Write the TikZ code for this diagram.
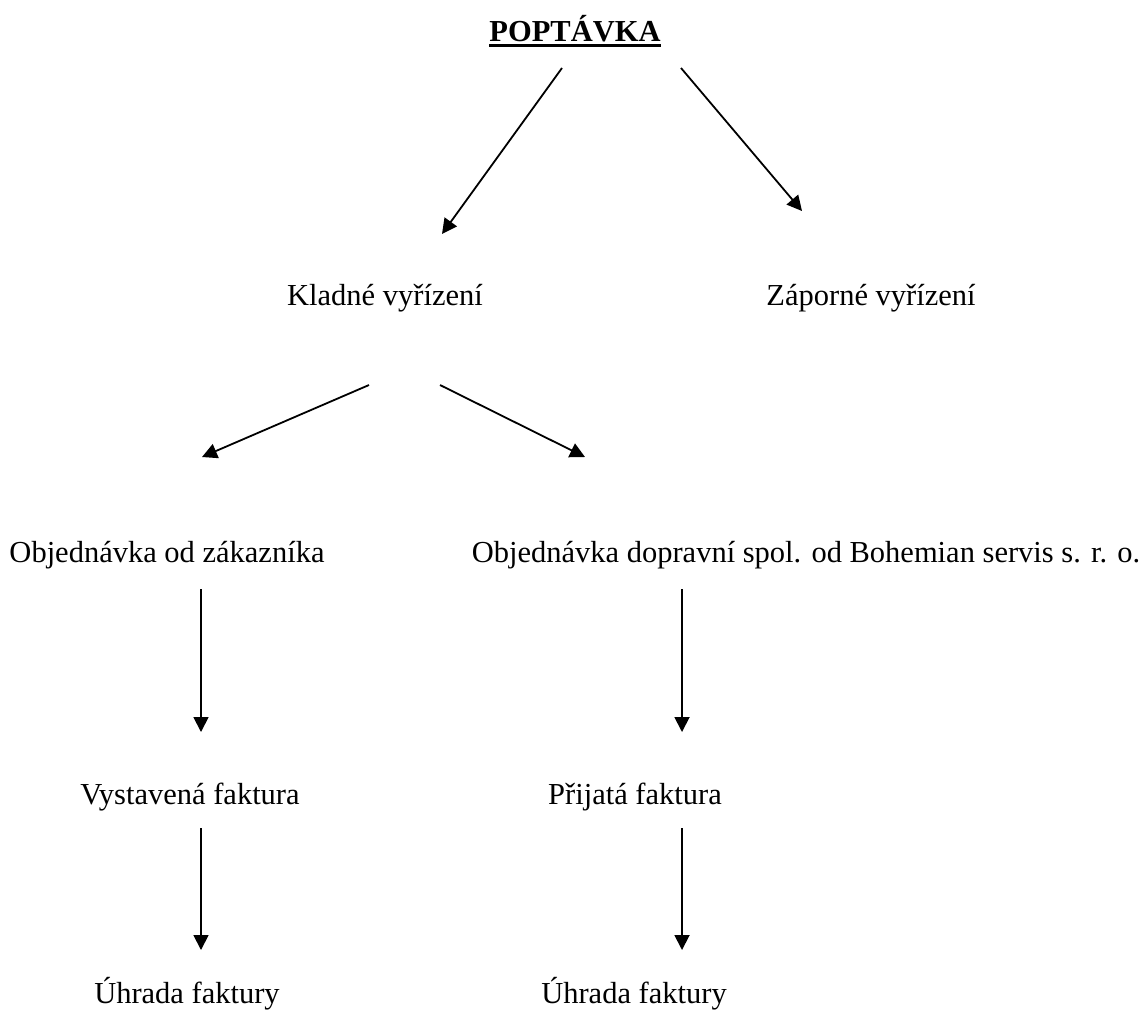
\documentclass[tikz,border=0pt]{standalone}
\usepackage{fontspec}
\setmainfont{Liberation Serif}
\usetikzlibrary{positioning,arrows.meta}
\newcommand\thickul[1]{\setbox0\hbox{#1}\leavevmode\rlap{\rule[-3pt]{\wd0}{1.4pt}}\box0}

\begin{document}
\begin{tikzpicture}[
  x=0.5pt,y=-0.5pt,
  every node/.style={font=\fontsize{15.25}{18}\selectfont,inner sep=0pt,anchor=base},
  arrow/.style={-{Triangle[length=7.5pt,width=7.5pt]},line width=0.9pt,draw=black}
]
\useasboundingbox (0,0) rectangle (1144,1019);
% uzly
\node (pop) at (575,41) {\thickul{\textbf{POPTÁVKA}}};
\node (kl) at (385,305) {Kladné vyřízení};
\node (zap) at (871,305) {Záporné vyřízení};
\node (objz) at (167,562) {Objednávka od zákazníka};
\node (objd) at (806,562) {Objednávka dopravní spol. od Bohemian servis s. r. o.};
\node (vyst) at (190,804) {Vystavená faktura};
\node (prij) at (635,804) {Přijatá faktura};
\node (uhr1) at (187,1003) {Úhrada faktury};
\node (uhr2) at (634,1003) {Úhrada faktury};
% sipky
\draw[arrow] ([shift={(-13,27)}]pop.base) -- ([shift={(57,-71)}]kl.base);
\draw[arrow] ([shift={(106,27)}]pop.base) -- ([shift={(-69,-94)}]zap.base);
\draw[arrow] ([shift={(-16,80)}]kl.base) -- ([shift={(35,-105)}]objz.base);
\draw[arrow] ([shift={(55,80)}]kl.base) -- ([shift={(-221,-105)}]objd.base);
\draw[arrow] ([shift={(34,27)}]objz.base) -- ([shift={(11,-72)}]vyst.base);
\draw[arrow] ([shift={(11,24)}]vyst.base) -- ([shift={(14,-53)}]uhr1.base);
\draw[arrow] ([shift={(-124,27)}]objd.base) -- ([shift={(47,-72)}]prij.base);
\draw[arrow] ([shift={(47,24)}]prij.base) -- ([shift={(48,-53)}]uhr2.base);
\end{tikzpicture}
\end{document}
